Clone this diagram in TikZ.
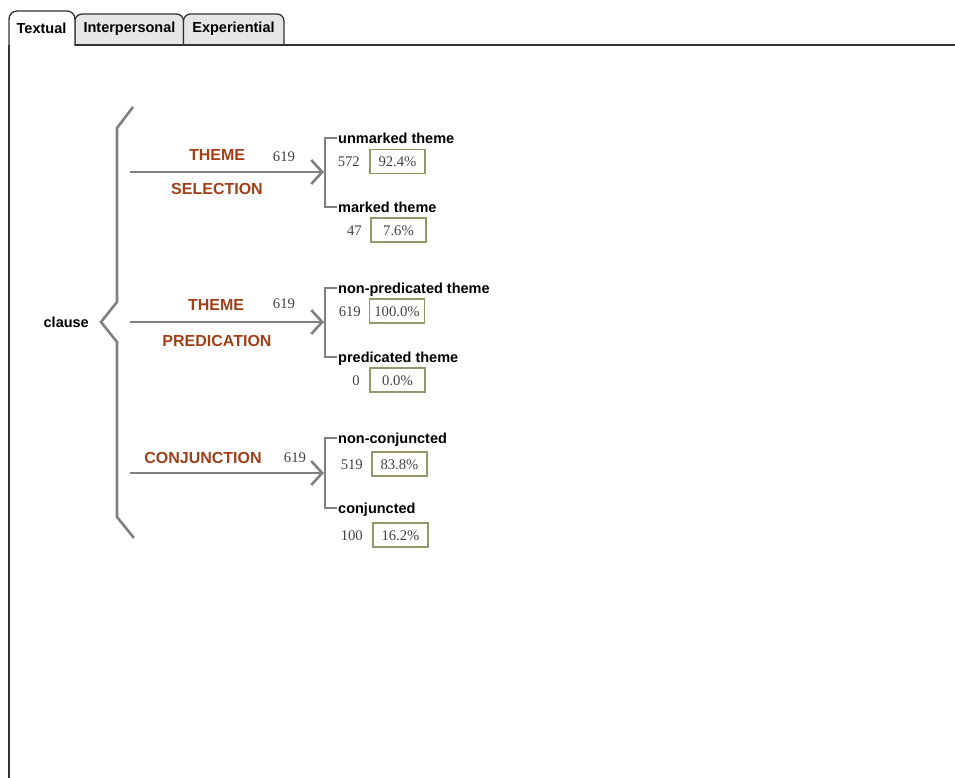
\documentclass[tikz,border=0pt]{standalone}
\usepackage{fontspec}
\setmainfont{Liberation Serif}
\setsansfont{Liberation Sans}
\usetikzlibrary{arrows.meta}
\definecolor{sysred}{RGB}{160,64,24}
\definecolor{numgray}{RGB}{64,68,64}
\definecolor{boxolive}{RGB}{150,150,105}
\definecolor{brgray}{RGB}{128,128,128}
\definecolor{tabgray}{RGB}{230,230,230}
\definecolor{frame}{RGB}{50,50,50}
\begin{document}
\begin{tikzpicture}[x=1pt,y=-1pt,
  lbl/.style={font=\sffamily\bfseries\fontsize{14.5}{17}\selectfont, inner sep=0pt, text height=10.5pt, text depth=0pt},
  systxt/.style={font=\sffamily\bfseries\fontsize{16}{19}\selectfont, text=sysred, inner sep=0pt, text height=11.5pt, text depth=0pt},
  num/.style={font=\fontsize{14.7}{17}\selectfont, text=numgray, inner sep=0pt, text height=10pt, text depth=0pt},
  pct/.style={num, draw=boxolive, line width=1.1pt, minimum width=55pt, minimum height=24pt},
  brk/.style={draw=brgray, line width=2.6pt, line join=miter},
  sysarrow/.style={draw=brgray, line width=2.6pt, -{Straight Barb[length=11pt,width=24pt]}},
  tabtxt/.style={font=\sffamily\bfseries\fontsize{14.5}{17}\selectfont, inner sep=0pt},
  tabline/.style={draw=frame, line width=1.3pt}
]
\useasboundingbox (0,0) rectangle (955,778);

% ---- tabs and frame ----
\draw[tabline, fill=tabgray, rounded corners=7pt] (75,45) -- (75,14) -- (183.5,14) -- (183.5,45);
\draw[tabline, fill=tabgray, rounded corners=7pt] (183.5,45) -- (183.5,14) -- (284,14) -- (284,45);
\draw[tabline, fill=white, rounded corners=8pt] (9,46) -- (9,11) -- (75,11) -- (75,46);
\draw[tabline] (9,45) -- (9,778);
\draw[tabline] (75,45) -- (955,45);
\node[tabtxt] (tab1) at (41.5,28.5) {Textual};
\node[tabtxt] (tab2) at (129.5,28.5) {Interpersonal};
\node[tabtxt] (tab3) at (233.5,28.5) {Experiential};

% ---- main brace ----
\draw[brk] (133,107) -- (117,128) -- (117,302) -- (101,322) -- (117,342) -- (117,517) -- (134,538);
\node[lbl, anchor=east] (clause) at (89,322) {clause};

% ---- system 1 ----
\coordinate (s1) at (130,172);
\coordinate (t1) at (324,172);
\draw[sysarrow] (s1) -- (t1);
\node[systxt] (n1a) at (217,155) {THEME};
\node[systxt] (n1b) at (217,189) {SELECTION};
\node[num] (c1) at (284,157) {619};
\draw[brk] (337,138) -- (325,138) -- (325,207) -- (337,207);
\node[lbl, anchor=west] (f1a) at (338,138) {unmarked theme};
\node[num, anchor=east] (k1a) at (360,161.5) {572};
\node[pct] (p1a) at (397.5,161.5) {92.4\%};
\node[lbl, anchor=west] (f1b) at (338,207) {marked theme};
\node[num, anchor=east] (k1b) at (362,230) {47};
\node[pct] (p1b) at (398.5,230) {7.6\%};

% ---- system 2 ----
\coordinate (s2) at (130,322);
\coordinate (t2) at (324,322);
\draw[sysarrow] (s2) -- (t2);
\node[systxt] (n2a) at (216,305) {THEME};
\node[systxt] (n2b) at (217,341) {PREDICATION};
\node[num] (c2) at (284,303) {619};
\draw[brk] (337,288) -- (325,288) -- (325,357) -- (337,357);
\node[lbl, anchor=west] (f2a) at (338,288) {non-predicated theme};
\node[num, anchor=east] (k2a) at (361,311) {619};
\node[pct] (p2a) at (397,311) {100.0\%};
\node[lbl, anchor=west] (f2b) at (338,357) {predicated theme};
\node[num, anchor=east] (k2b) at (360,380) {0};
\node[pct] (p2b) at (397.5,380) {0.0\%};

% ---- system 3 ----
\coordinate (s3) at (130,473);
\coordinate (t3) at (324,473);
\draw[sysarrow] (s3) -- (t3);
\node[systxt] (n3a) at (203,458) {CONJUNCTION};
\node[num] (c3) at (295,457) {619};
\draw[brk] (337,438) -- (325,438) -- (325,508) -- (337,508);
\node[lbl, anchor=west] (f3a) at (338,438) {non-conjuncted};
\node[num, anchor=east] (k3a) at (363,464) {519};
\node[pct] (p3a) at (399.5,464) {83.8\%};
\node[lbl, anchor=west] (f3b) at (338,508) {conjuncted};
\node[num, anchor=east] (k3b) at (363,535) {100};
\node[pct] (p3b) at (400.5,535) {16.2\%};
\end{tikzpicture}
\end{document}
